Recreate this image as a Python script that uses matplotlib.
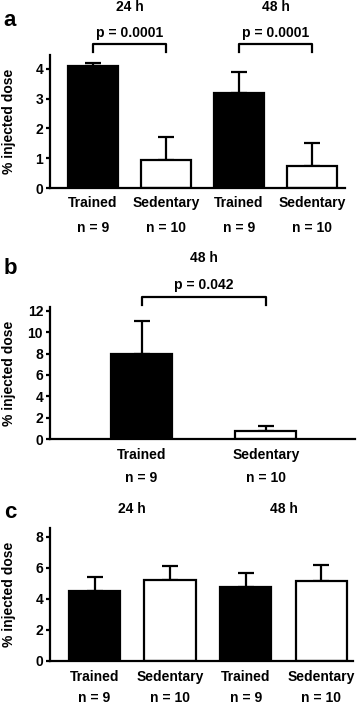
import matplotlib
matplotlib.use("Agg")
import matplotlib.pyplot as plt
import matplotlib.transforms as mtransforms

plt.rcParams['font.family'] = ['Liberation Sans', 'DejaVu Sans']
plt.rcParams['font.weight'] = 'bold'

# Data
groups = ["Trained", "Sedentary", "Trained", "Sedentary"]
n_labels = ["n = 9", "n = 10", "n = 9", "n = 10"]
fills = ["black", "white", "black", "white"]

a_mean = [4.1, 0.95, 3.2, 0.75]
a_err = [0.1, 0.77, 0.7, 0.76]

b_groups = ["Trained", "Sedentary"]
b_n = ["n = 9", "n = 10"]
b_mean = [8.0, 0.75]
b_err = [3.1, 0.45]

c_mean = [4.5, 5.2, 4.8, 5.15]
c_err = [0.92, 0.95, 0.9, 1.05]

W, H = 358, 706
fig = plt.figure(figsize=(W / 100, H / 100), dpi=100)
FS = 10


def box(x0, x1, ytop, ybot):
    return [x0 / W, 1 - ybot / H, (x1 - x0) / W, (ybot - ytop) / H]


def fy(py):
    return 1 - py / H


def style(ax, ylim, ticks, ylab_py):
    ax.set_ylim(*ylim)
    ax.set_yticks(ticks)
    ax.set_xticks([])
    for s in ["top", "right"]:
        ax.spines[s].set_visible(False)
    for s in ["left", "bottom"]:
        ax.spines[s].set_linewidth(1.6)
    ax.tick_params(axis="y", length=3, width=1.6, pad=2, labelsize=FS)
    for lab in ax.get_yticklabels():
        lab.set_fontweight("bold")
    fig.text(9 / W, fy(ylab_py), "% injected dose", rotation=90, fontsize=FS,
             fontweight="bold", ha="center", va="center")


def bars(ax, x, mean, err, width, colors):
    ax.bar(x, mean, width=width, color=colors, edgecolor="black", linewidth=1.6, zorder=2)
    ax.errorbar(x, mean, yerr=[[0] * len(mean), err], fmt="none", ecolor="black",
                elinewidth=1.6, capsize=6, capthick=1.6, zorder=1)


def label_row(ax, x, labels, py):
    tr = mtransforms.blended_transform_factory(ax.transData, fig.transFigure)
    for xi, t in zip(x, labels):
        ax.text(xi, fy(py), t, transform=tr, ha="center", va="center",
                fontsize=FS, fontweight="bold")


def bracket(ax, x0, x1, ptop, pbot, text, ptext):
    tr = mtransforms.blended_transform_factory(ax.transData, fig.transFigure)
    ax.plot([x0, x0, x1, x1], [fy(pbot), fy(ptop), fy(ptop), fy(pbot)], color="black",
            lw=1.6, transform=tr, clip_on=False)
    ax.text((x0 + x1) / 2, fy(ptext), text, transform=tr, ha="center", va="center",
            fontsize=FS, fontweight="bold")


x4 = [0, 1, 2, 3]

# Panel a
ax1 = fig.add_axes(box(50, 345, 55, 188))
bars(ax1, x4, a_mean, a_err, 0.68, fills)
ax1.set_xlim(-0.59, 3.45)
style(ax1, (0, 4.47), [0, 1, 2, 3, 4], 121)
label_row(ax1, x4, groups, 203)
label_row(ax1, x4, n_labels, 228)
label_row(ax1, [0.5, 2.5], ["24 h", "48 h"], 7)
bracket(ax1, 0, 1, 44, 52, "p = 0.0001", 33)
bracket(ax1, 2, 3, 44, 52, "p = 0.0001", 33)
fig.text(10 / W, fy(20), "a", fontsize=16, fontweight="bold", ha="center", va="center")

# Panel b
ax2 = fig.add_axes(box(50, 355, 307, 439))
bars(ax2, [0, 1], b_mean, b_err, 0.49, ["black", "white"])
ax2.set_xlim(-0.735, 1.715)
style(ax2, (0, 12.37), [0, 2, 4, 6, 8, 10, 12], 373)
label_row(ax2, [0, 1], b_groups, 455)
label_row(ax2, [0, 1], b_n, 478)
label_row(ax2, [0.5], ["48 h"], 258)
bracket(ax2, 0, 1, 297, 305, "p = 0.042", 285)
fig.text(10 / W, fy(268), "b", fontsize=16, fontweight="bold", ha="center", va="center")

# Panel c
ax3 = fig.add_axes(box(50, 353, 528, 661))
bars(ax3, x4, c_mean, c_err, 0.68, fills)
ax3.set_xlim(-0.59, 3.42)
style(ax3, (0, 8.58), [0, 2, 4, 6, 8], 594)
label_row(ax3, x4, groups, 677)
label_row(ax3, x4, n_labels, 698)
label_row(ax3, [0.5, 2.5], ["24 h", "48 h"], 509)
fig.text(10 / W, fy(513), "c", fontsize=16, fontweight="bold", ha="center", va="center")

fig.savefig("out.png", dpi=100)
